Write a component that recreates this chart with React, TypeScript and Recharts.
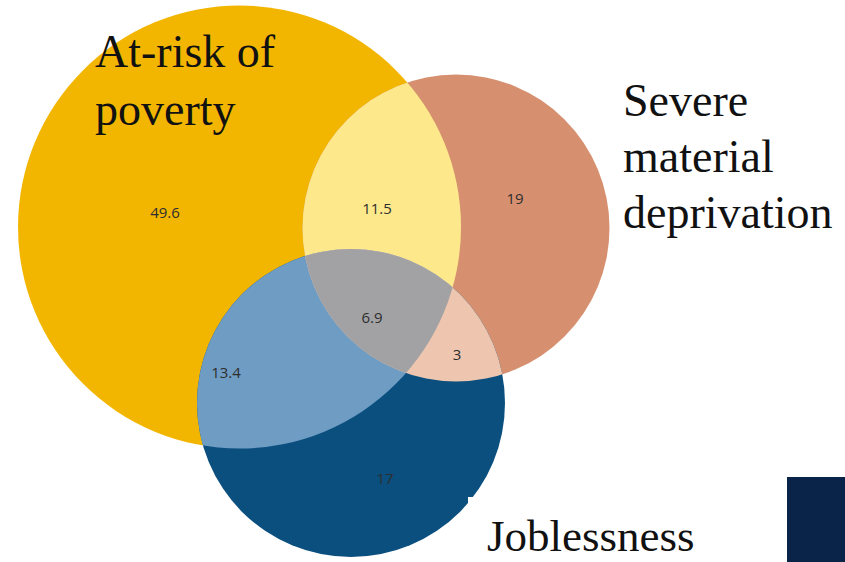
import { ReferenceArea, Scatter, ScatterChart, XAxis, YAxis, ZAxis } from 'recharts';

// chart units: one unit per pixel of the 845x562 canvas, y grows downward
const sets = [
  { key: 'poverty', x: 239.5, y: 227, r: 221.5 },
  { key: 'deprivation', x: 456, y: 228, r: 153.5 },
  { key: 'jobless', x: 351, y: 403, r: 154 },
];

// each overlap is drawn as the last set's circle, clipped by the others
const overlaps = [
  ['poverty', 'deprivation'],
  ['poverty', 'jobless'],
  ['deprivation', 'jobless'],
  ['poverty', 'deprivation', 'jobless'],
];

const regionValues = [49.6, 11.5, 19, 6.9, 3, 13.4, 17];
const regionX = [165, 377, 515, 372, 457, 226, 385];
const regionY = [212, 208, 198, 317, 354, 372, 478];

const setLabels = [
  { key: 'poverty', lines: ['At-risk of', 'poverty'], x: 95, y: 67 },
  { key: 'deprivation', lines: ['Severe', 'material', 'deprivation'], x: 623, y: 116 },
  { key: 'jobless', lines: ['Joblessness'], x: 487, y: 551 },
];

const W = 845;
const H = 562;

const FILL: Record<string, string> = {
  poverty: '#F3B600',
  deprivation: '#D6906F',
  jobless: '#0B4F7F',
  'poverty|deprivation': '#FDE98C',
  'poverty|jobless': '#6E9CC3',
  'deprivation|jobless': '#EEC6AF',
  'poverty|deprivation|jobless': '#A2A2A4',
};

const withArea = (s: { key: string; x: number; y: number; r: number }) => ({
  ...s,
  area: Math.PI * s.r * s.r,
});

const circleData = sets.map(withArea);
const overlapData = overlaps.map((keys) => {
  const base = sets.find((s) => s.key === keys[keys.length - 1])!;
  return [{ ...withArea(base), clips: keys.slice(0, -1), fill: FILL[keys.join('|')] }];
});
const regionData = regionValues.map((value, i) => ({ value, x: regionX[i], y: regionY[i] }));

const SetCircle = (props: any) => {
  const { cx, cy, width, payload } = props;
  const r = width / 2;
  return (
    <g>
      <defs>
        <clipPath id={`clip-${payload.key}`}>
          <circle cx={cx} cy={cy} r={r} />
        </clipPath>
      </defs>
      <circle cx={cx} cy={cy} r={r} fill={FILL[payload.key]} />
    </g>
  );
};

const OverlapShape = (props: any) => {
  const { cx, cy, width, payload } = props;
  let node = <circle cx={cx} cy={cy} r={width / 2} fill={payload.fill} />;
  for (const k of payload.clips as string[]) {
    node = <g clipPath={`url(#clip-${k})`}>{node}</g>;
  }
  return node;
};

const RegionLabel = (props: any) => (
  <text
    x={props.cx}
    y={props.cy}
    textAnchor="middle"
    dominantBaseline="central"
    fontFamily="'Open Sans', sans-serif"
    fontSize={15}
    fill="#2e2e2e"
  >
    {props.payload.value}
  </text>
);

const SetLabel = (props: any) => {
  const { cx, cy, payload } = props;
  const size = payload.key === 'jobless' ? 45 : 46;
  const gap = payload.key === 'poverty' ? 58 : 56;
  return (
    <g>
      {payload.key === 'jobless' && (
        <rect x={cx - 19} y={cy - 54} width={230} height={70} fill="#ffffff" />
      )}
      <text x={cx} y={cy} fontFamily="'Liberation Serif', serif" fontSize={size} fill="#111111">
        {payload.lines.map((line: string, i: number) => (
          <tspan key={line} x={cx} y={cy + i * gap}>
            {line}
          </tspan>
        ))}
      </text>
    </g>
  );
};

export default function App() {
  return (
    <div style={{ position: 'absolute', left: 0, top: 0, width: W, height: H, background: '#ffffff' }}>
      <ScatterChart width={W} height={H} margin={{ top: 0, right: 0, bottom: 0, left: 0 }}>
        <XAxis type="number" dataKey="x" domain={[0, W]} hide />
        <YAxis type="number" dataKey="y" domain={[0, H]} reversed hide />
        <ZAxis type="number" dataKey="area" domain={[0, 200000]} range={[0, 200000]} />
        <ReferenceArea x1={787} x2={845} y1={477} y2={562} fill="#0A2348" fillOpacity={1} stroke="none" />
        <Scatter data={circleData} shape={SetCircle} isAnimationActive={false} />
        {overlapData.map((d, i) => (
          <Scatter key={i} data={d} shape={OverlapShape} isAnimationActive={false} />
        ))}
        <Scatter data={regionData} shape={RegionLabel} isAnimationActive={false} />
        <Scatter data={setLabels} shape={SetLabel} isAnimationActive={false} />
      </ScatterChart>
    </div>
  );
}
